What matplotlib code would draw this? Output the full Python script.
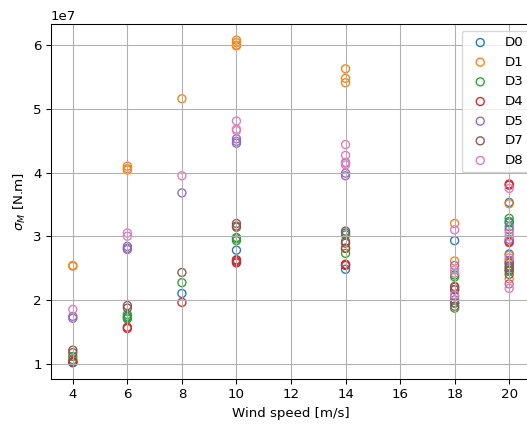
import matplotlib
matplotlib.use("Agg")
import matplotlib.pyplot as plt
import numpy as np

labels = ["D0", "D1", "D3", "D4", "D5", "D7", "D8"]

# wind speeds and sigma_M values (in units of 1e7 N.m) per series
d0_ws = [4, 6, 8, 10, 10, 14, 14, 14, 18, 18, 20, 20, 20, 20]
d0_val = [1.01, 1.74, 2.10, 2.78, 2.62, 3.05, 2.55, 2.48, 2.93, 1.95, 3.53, 3.23, 2.72, 2.50]

d1_ws = [4, 4, 6, 6, 6, 8, 10, 10, 10, 10, 14, 14, 14, 18, 18, 20, 20, 20, 20]
d1_val = [2.54, 2.53, 4.10, 4.06, 4.04, 5.16, 6.08, 6.04, 6.00, 5.99, 5.63, 5.48, 5.41, 3.20, 2.61, 3.51, 2.70, 2.57, 2.33]

d3_ws = [4, 4, 6, 6, 6, 8, 10, 10, 10, 14, 14, 14, 18, 18, 18, 20, 20, 20, 20]
d3_val = [1.11, 1.06, 1.77, 1.72, 1.70, 2.27, 2.98, 2.96, 2.93, 3.02, 2.81, 2.73, 2.39, 2.36, 1.87, 3.28, 3.21, 3.10, 2.45]

d4_ws = [4, 4, 6, 6, 8, 10, 10, 10, 14, 14, 14, 18, 18, 20, 20, 20, 20]
d4_val = [1.03, 1.02, 1.57, 1.55, 1.96, 2.63, 2.60, 2.58, 2.81, 2.56, 2.54, 2.21, 2.16, 3.82, 3.80, 2.92, 2.90]

d5_ws = [4, 4, 6, 6, 6, 8, 10, 10, 10, 14, 14, 14, 18, 18, 18, 20, 20, 20, 20]
d5_val = [1.74, 1.71, 2.84, 2.81, 2.79, 3.68, 4.53, 4.49, 4.46, 4.15, 3.99, 3.95, 2.54, 2.05, 2.00, 3.15, 2.95, 2.62, 2.25]

d7_ws = [4, 4, 6, 6, 8, 10, 10, 10, 14, 14, 14, 18, 18, 18, 18, 20, 20, 20, 20]
d7_val = [1.21, 1.17, 1.91, 1.87, 2.43, 3.20, 3.16, 3.14, 3.08, 2.92, 2.89, 2.20, 2.16, 1.95, 1.90, 2.58, 2.53, 2.47, 2.40]

d8_ws = [4, 6, 6, 8, 10, 10, 10, 14, 14, 14, 14, 18, 18, 18, 18, 20, 20, 20, 20, 20]
d8_val = [1.85, 3.05, 3.00, 3.95, 4.81, 4.68, 4.66, 4.44, 4.27, 4.16, 4.12, 3.10, 2.47, 2.42, 2.08, 3.75, 3.05, 3.00, 2.66, 2.18]

series = [(d0_ws, d0_val), (d1_ws, d1_val), (d3_ws, d3_val), (d4_ws, d4_val),
          (d5_ws, d5_val), (d7_ws, d7_val), (d8_ws, d8_val)]
colors = ["C0", "C1", "C2", "C3", "C4", "C5", "C6"]

fig = plt.figure(figsize=(527 / 96, 425 / 96), dpi=96)
ax = fig.add_axes([51 / 527, 46 / 425, 480 / 527, 355 / 425])

for (ws, val), lab, c in zip(series, labels, colors):
    ax.scatter(ws, np.array(val) * 1e7, facecolors="none", edgecolors=c, label=lab)

ax.set_xticks(np.arange(4, 21, 2))
ax.set_xlabel("Wind speed [m/s]")
ax.set_ylabel(r"$\sigma_M$ [N.m]")
ax.grid(True)
ax.legend(loc="upper right", bbox_to_anchor=(1 + 4 / 480, 1.0))

fig.savefig("out.png", dpi=96)
